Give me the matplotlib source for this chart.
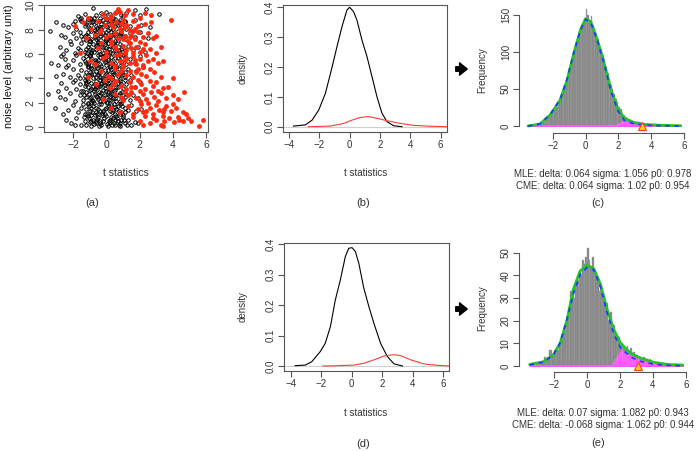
import numpy as np
import matplotlib
matplotlib.use('Agg')
import matplotlib.pyplot as plt
from matplotlib.patches import FancyArrowPatch

plt.rcParams['font.family'] = ['Liberation Sans', 'DejaVu Sans']

# ---------------- data ----------------
# (a) scatter: t statistic vs noise level (null genes, open circles)
black_pts = [
    (-2.1,0.3),(-1.8,0.7),(-1.5,0.2),(-1.3,0.5),(-1.1,0.9),(-0.9,0.1),(-0.8,0.6),(-0.6,0.3),(-0.5,0.8),(-0.3,0.2),
    (-0.2,0.5),(0.0,0.9),(0.1,0.1),(0.2,0.4),(0.4,0.7),(0.5,0.2),(0.7,0.5),(0.8,0.1),(1.0,0.8),(1.1,0.3),
    (1.3,0.6),(1.5,0.2),(1.7,0.4),(-1.9,0.2),(-0.4,0.5),(0.3,0.8),(-1.0,0.4),(0.6,0.9),(-2.4,0.6),(1.9,0.3),
    (-0.7,0.95),(0.9,0.6),
    (-2.3,1.4),(-2.0,1.8),(-1.7,1.2),(-1.5,1.6),(-1.3,1.1),(-1.1,1.9),(-1.0,1.3),(-0.8,1.7),(-0.6,1.2),(-0.5,1.5),
    (-0.3,1.9),(-0.1,1.1),(0.0,1.6),(0.2,1.3),(0.3,1.8),(0.5,1.1),(0.6,1.5),(0.8,1.9),(0.9,1.2),(1.1,1.6),
    (1.3,1.4),(1.5,1.8),(1.8,1.3),(-3.1,1.6),(-2.6,1.1),(-0.9,1.0),(0.4,1.4),(-0.2,1.3),(1.0,1.0),(-1.4,1.9),
    (2.1,1.5),(0.7,1.7),
    (-2.5,2.3),(-2.2,2.8),(-1.9,2.1),(-1.6,2.6),(-1.4,2.2),(-1.2,2.9),(-1.0,2.4),(-0.8,2.1),(-0.7,2.7),(-0.5,2.3),
    (-0.3,2.8),(-0.2,2.1),(0.0,2.5),(0.1,2.9),(0.3,2.2),(0.5,2.6),(0.6,2.1),(0.8,2.8),(1.0,2.3),(1.2,2.7),
    (1.4,2.2),(1.6,2.6),(-3.5,2.7),(-2.8,2.5),(-1.1,2.0),(0.4,2.4),(-0.4,2.6),(0.9,2.0),(1.9,2.4),(-1.5,2.95),
    (-0.9,2.5),(0.2,2.7),
    (-2.4,3.2),(-2.0,3.7),(-1.8,3.1),(-1.6,3.5),(-1.3,3.9),(-1.1,3.3),(-0.9,3.6),(-0.7,3.1),(-0.6,3.8),(-0.4,3.4),
    (-0.2,3.9),(-0.1,3.2),(0.1,3.6),(0.3,3.1),(0.4,3.7),(0.6,3.3),(0.8,3.8),(1.0,3.2),(1.2,3.5),(1.4,3.9),
    (1.7,3.3),(-2.9,3.0),(-2.7,3.6),(-1.4,3.0),(-0.8,3.4),(0.0,3.0),(0.7,3.6),(-0.3,3.5),(2.0,3.7),(-1.9,3.85),
    (0.2,3.35),(-1.2,3.7),
    (-2.6,4.4),(-2.2,4.1),(-2.0,4.8),(-1.7,4.3),(-1.5,4.7),(-1.3,4.2),(-1.1,4.9),(-0.9,4.4),(-0.8,4.0),(-0.6,4.6),
    (-0.4,4.1),(-0.3,4.8),(-0.1,4.3),(0.1,4.7),(0.2,4.0),(0.4,4.5),(0.6,4.9),(0.7,4.2),(0.9,4.6),(1.1,4.1),
    (1.3,4.8),(1.5,4.3),(1.8,4.6),(-3.0,4.2),(-2.4,4.9),(-1.0,4.5),(-0.5,4.3),(0.3,4.8),(0.0,4.4),(-1.6,4.0),
    (1.0,4.4),(2.2,4.9),
    (-2.5,5.6),(-2.3,5.1),(-2.0,5.5),(-1.8,5.9),(-1.6,5.2),(-1.4,5.7),(-1.2,5.3),(-1.0,5.8),(-0.9,5.1),(-0.7,5.5),
    (-0.5,5.9),(-0.4,5.2),(-0.2,5.6),(0.0,5.1),(0.1,5.8),(0.3,5.4),(0.5,5.7),(0.6,5.0),(0.8,5.5),(1.0,5.9),
    (1.2,5.2),(1.4,5.6),(1.7,5.3),(-3.3,5.3),(-2.9,5.1),(-2.7,5.8),(-1.1,5.0),(-0.6,5.4),(0.2,5.3),(-0.1,5.9),
    (0.9,5.1),(2.0,5.8),
    (-2.4,6.3),(-2.1,6.8),(-1.9,6.1),(-1.7,6.5),(-1.5,6.9),(-1.3,6.2),(-1.1,6.6),(-0.9,6.1),(-0.8,6.8),(-0.6,6.4),
    (-0.4,6.0),(-0.3,6.7),(-0.1,6.3),(0.1,6.9),(0.2,6.2),(0.4,6.6),(0.6,6.1),(0.8,6.8),(0.9,6.4),(1.1,6.0),
    (1.3,6.7),(1.6,6.3),(-2.8,6.6),(-2.6,6.0),(-1.0,6.4),(-0.5,6.9),(0.0,6.5),(0.5,6.3),(1.9,6.6),(2.3,6.2),
    (-1.6,6.3),(-0.2,6.1),
    (-2.5,7.4),(-2.2,7.1),(-2.0,7.7),(-1.8,7.3),(-1.6,7.8),(-1.4,7.2),(-1.2,7.6),(-1.0,7.1),(-0.9,7.9),(-0.7,7.4),
    (-0.5,7.0),(-0.4,7.7),(-0.2,7.3),(0.0,7.8),(0.1,7.2),(0.3,7.6),(0.5,7.1),(0.7,7.9),(0.9,7.5),(1.1,7.2),
    (1.4,7.7),(1.7,7.4),(-3.4,7.9),(-2.7,7.6),(-1.1,7.5),(-0.6,7.2),(0.2,7.4),(-0.1,7.0),(2.0,7.8),(2.5,7.3),
    (-1.5,7.5),(0.6,7.6),
    (-2.3,8.2),(-2.0,8.5),(-1.8,8.1),(-1.5,8.7),(-1.3,8.3),(-1.1,8.9),(-0.9,8.4),(-0.7,8.0),(-0.6,8.6),(-0.4,8.2),
    (-0.2,8.8),(0.0,8.3),(0.2,8.7),(0.4,8.1),(0.5,8.9),(0.7,8.4),(0.9,8.0),(1.1,8.6),(1.4,8.3),(1.7,8.8),
    (2.1,8.4),(-3.0,8.6),(-2.6,8.4),(-1.6,8.9),(-1.0,8.1),(-0.3,8.5),(0.1,8.0),(0.8,8.8),(2.6,8.2),(-0.8,8.7),
    (1.2,8.1),(-1.9,8.75),
    (-1.7,9.1),(-1.3,9.3),(-1.0,9.0),(-0.8,9.8),(-0.6,9.2),(-0.3,9.4),(-0.1,9.1),(0.2,9.3),(0.4,9.0),(0.6,9.5),
    (0.9,9.2),(1.2,9.4),(1.7,9.6),(2.4,9.7),(3.2,9.3),(-1.5,9.0),(-0.4,9.0),(0.0,9.5),(1.0,9.1),(2.0,9.2),
]
# dense core of the null cloud
black_core_pts = [
    (-1.2,0.15),(-0.95,0.45),(-0.75,0.25),(-0.55,0.65),(-0.35,0.35),(-0.15,0.75),(0.05,0.25),(0.25,0.6),(0.45,0.35),(0.65,0.75),
    (0.85,0.3),(1.05,0.55),(-1.05,0.7),(-0.45,0.1),(0.15,0.5),(0.75,0.15),(-0.65,0.5),(0.35,0.15),(-1.35,0.85),(1.25,0.15),
    (-0.25,0.95),(0.55,0.55),
    (-1.25,1.45),(-1.05,1.75),(-0.85,1.25),(-0.65,1.55),(-0.45,1.85),(-0.25,1.15),(-0.05,1.45),(0.15,1.75),(0.35,1.25),(0.55,1.65),
    (0.75,1.35),(0.95,1.75),(1.15,1.25),(-0.95,1.55),(-0.35,1.35),(0.25,1.55),(0.85,1.05),(-0.75,1.95),(0.05,1.95),(-1.15,1.05),
    (0.45,1.9),(-0.55,1.05),
    (-1.25,2.45),(-1.05,2.75),(-0.85,2.25),(-0.65,2.55),(-0.45,2.85),(-0.25,2.35),(-0.05,2.65),(0.15,2.25),(0.35,2.75),(0.55,2.35),
    (0.75,2.65),(0.95,2.85),(1.15,2.45),(-0.95,2.05),(-0.35,2.15),(0.25,2.55),(0.85,2.15),(-0.75,2.95),(0.05,2.05),(-1.35,2.65),
    (0.45,2.95),(-0.55,2.45),
    (-1.3,3.35),(-1.1,3.8),(-0.9,3.15),(-0.7,3.55),(-0.5,3.25),(-0.3,3.65),(-0.1,3.45),(0.1,3.85),(0.3,3.45),(0.5,3.05),
    (0.7,3.25),(0.9,3.55),(1.1,3.85),(-1.0,3.05),(-0.4,3.9),(0.2,3.15),(0.8,3.95),(-0.6,3.25),(0.0,3.65),(-1.2,3.55),
    (0.4,3.85),(-0.2,3.05),
    (-1.25,4.55),(-1.05,4.25),(-0.85,4.75),(-0.65,4.15),(-0.45,4.45),(-0.25,4.05),(-0.05,4.65),(0.15,4.35),(0.35,4.15),(0.55,4.55),
    (0.75,4.75),(0.95,4.25),(1.15,4.55),(-0.95,4.85),(-0.35,4.55),(0.25,4.95),(0.85,4.45),(-0.75,4.35),(0.05,4.05),(-1.15,4.05),
    (0.45,4.35),(-0.55,4.85),
    (-1.3,5.45),(-1.1,5.15),(-0.9,5.65),(-0.7,5.25),(-0.5,5.55),(-0.3,5.05),(-0.1,5.35),(0.1,5.55),(0.3,5.75),(0.5,5.25),
    (0.7,5.65),(0.9,5.35),(1.1,5.75),(-1.0,5.95),(-0.4,5.75),(0.2,5.05),(0.8,5.95),(-0.6,5.05),(0.0,5.45),(-1.2,5.85),
    (0.4,5.15),(-0.2,5.85),
    (-1.25,6.45),(-1.05,6.85),(-0.85,6.35),(-0.65,6.65),(-0.45,6.25),(-0.25,6.55),(-0.05,6.85),(0.15,6.45),(0.35,6.05),(0.55,6.75),
    (0.75,6.35),(0.95,6.65),(1.15,6.35),(-0.95,6.15),(-0.35,6.95),(0.25,6.65),(0.85,6.05),(-0.75,6.15),(0.05,6.15),(-1.15,6.05),
    (0.45,6.95),(-0.55,6.75),
    (-1.3,7.45),(-1.1,7.85),(-0.9,7.25),(-0.7,7.65),(-0.5,7.35),(-0.3,7.95),(-0.1,7.55),(0.1,7.35),(0.3,7.85),(0.5,7.45),
    (0.7,7.15),(0.9,7.75),(1.1,7.45),(-1.0,7.05),(-0.4,7.45),(0.2,7.15),(0.8,7.55),(-0.6,7.85),(0.0,7.15),(-1.2,7.15),
    (0.4,7.65),(-0.2,7.75),
    (-1.25,8.45),(-1.05,8.15),(-0.85,8.65),(-0.65,8.35),(-0.45,8.75),(-0.25,8.25),(-0.05,8.65),(0.15,8.45),(0.35,8.75),(0.55,8.35),
    (0.75,8.65),(0.95,8.25),(1.15,8.75),(-0.95,8.85),(-0.35,8.05),(0.25,8.15),(0.85,8.45),(-0.75,8.95),(0.05,8.85),(-1.15,8.65),
    (0.45,8.55),(-0.55,8.15),
]
# differentially expressed genes (filled red)
red_pts = [
    (1.6,0.8),(2.0,0.5),(2.3,0.9),(2.6,0.3),(2.8,0.7),(3.0,0.6),(3.3,0.2),(3.4,0.9),(3.5,0.5),(3.8,0.7),
    (4.1,0.4),(4.3,0.8),(4.6,0.5),(4.9,0.7),(5.1,0.5),(5.6,0.1),(5.8,0.6),(3.4,0.1),(2.2,0.2),(4.4,0.6),
    (0.8,1.2),(1.3,1.7),(1.6,1.1),(1.9,1.5),(2.1,1.9),(2.4,1.3),(2.6,1.6),(2.8,1.1),(3.0,1.8),(3.2,1.4),
    (3.4,1.2),(3.6,1.7),(3.9,1.3),(4.2,1.6),(4.6,1.2),(4.8,1.1),(2.2,1.2),(0.3,1.6),(3.5,1.5),(4.0,1.9),
    (-0.2,2.3),(0.5,2.7),(1.0,2.2),(1.3,2.6),(1.5,2.9),(1.8,2.4),(2.0,2.1),(2.2,2.7),(2.4,2.3),(2.7,2.9),
    (2.9,2.5),(3.1,2.1),(3.3,2.8),(3.6,2.4),(4.0,2.6),(4.3,2.3),(4.7,2.9),(1.1,2.9),(2.5,2.0),(0.9,2.5),
    (-0.6,3.5),(0.2,3.2),(0.6,3.8),(0.9,3.4),(1.2,3.1),(1.4,3.7),(1.7,3.3),(1.9,3.9),(2.1,3.5),(2.3,3.1),
    (2.6,3.8),(2.8,3.4),(3.1,3.0),(3.4,3.2),(3.7,3.3),(0.4,3.5),(2.0,3.0),(1.5,3.3),(3.0,3.7),(-0.1,3.9),
    (-1.1,4.1),(-0.3,4.6),(0.1,4.2),(0.5,4.8),(0.7,4.4),(1.0,4.9),(1.2,4.3),(1.4,4.6),(1.6,4.1),(1.9,4.8),
    (2.1,4.4),(2.4,4.2),(2.6,4.8),(2.9,4.5),(3.3,4.1),(4.0,4.0),(0.3,4.0),(1.8,4.5),(2.2,4.9),(0.9,4.6),
    (-0.7,5.2),(-0.2,5.7),(0.3,5.3),(0.6,5.9),(0.8,5.4),(1.0,5.1),(1.2,5.7),(1.4,5.3),(1.6,5.8),(1.8,5.2),
    (2.0,5.6),(2.2,5.1),(2.5,5.4),(2.8,5.6),(3.1,5.3),(1.1,5.5),(0.5,5.0),(1.7,5.5),(2.4,5.9),(3.4,5.4),
    (-1.0,5.4),(0.0,5.8),
    (-1.6,6.1),(-0.5,6.5),(0.0,6.2),(0.3,6.8),(0.6,6.4),(0.8,6.0),(1.0,6.7),(1.2,6.3),(1.4,6.9),(1.6,6.1),
    (1.8,6.6),(2.0,6.2),(2.3,6.8),(2.6,6.4),(3.0,6.1),(0.5,6.6),(1.1,6.1),(1.5,6.5),(2.2,6.4),(-0.3,6.9),
    (3.3,6.6),
    (-1.2,7.3),(-0.4,7.8),(0.0,7.4),(0.3,7.1),(0.5,7.7),(0.7,7.3),(0.9,7.9),(1.1,7.5),(1.3,7.1),(1.5,7.6),
    (1.7,7.2),(1.9,7.8),(2.2,7.4),(2.5,7.7),(2.8,7.3),(0.2,7.6),(1.0,7.2),(1.6,7.9),(2.0,7.0),(-0.7,7.6),
    (3.0,7.5),(1.4,7.4),
    (-1.9,8.3),(-1.4,8.6),(-0.9,8.1),(-0.5,8.7),(-0.1,8.4),(0.2,8.9),(0.4,8.2),(0.6,8.6),(0.8,8.1),(1.0,8.8),
    (1.2,8.4),(1.4,8.0),(1.6,8.7),(1.9,8.3),(2.3,8.5),(2.7,8.6),(3.9,8.8),(0.3,8.5),(1.1,8.2),(-0.3,8.0),
    (0.9,8.5),(1.7,8.1),
    (-1.1,9.0),(-0.2,9.3),(0.3,9.1),(0.7,9.7),(0.8,9.5),(1.1,9.2),(1.6,9.3),(2.0,9.0),(2.7,9.2),(0.5,9.4),
    (1.3,9.6),(2.3,9.4),(0.0,9.0),
]

# (b) densities
b_null_x = [-3.71, -2.92, -2.48, -2.04, -1.6, -1.16, -0.84, -0.51, -0.18, 0.0, 0.26, 0.48, 0.81, 1.14, 1.47, 1.8, 2.13, 2.46, 2.9, 3.45]
b_null_y = [0.002, 0.006, 0.022, 0.056, 0.112, 0.2, 0.268, 0.335, 0.391, 0.4, 0.385, 0.357, 0.29, 0.235, 0.168, 0.1, 0.045, 0.017, 0.003, 0.0]
b_alt_x = [-2.73, -1.27, -0.4, 0.04, 0.7, 1.25, 1.8, 2.46, 3.34, 4.2, 5.08, 6.4]
b_alt_y = [0.0, 0.002, 0.011, 0.02, 0.031, 0.034, 0.028, 0.02, 0.011, 0.0045, 0.002, 0.0]

# (d) densities
d_null_x = [-3.71, -3.05, -2.62, -2.07, -1.74, -1.4, -1.08, -0.75, -0.42, -0.2, 0.02, 0.24, 0.46, 0.79, 1.12, 1.45, 1.89, 2.33, 2.77, 3.32]
d_null_y = [0.001, 0.003, 0.014, 0.047, 0.074, 0.129, 0.216, 0.282, 0.359, 0.386, 0.388, 0.375, 0.337, 0.255, 0.195, 0.14, 0.074, 0.031, 0.007, 0.0]
d_alt_x = [-1.89, -0.97, 0.13, 0.79, 1.45, 2.11, 2.77, 3.21, 3.87, 4.75, 5.63, 6.46]
d_alt_y = [0.0, 0.001, 0.003, 0.009, 0.02, 0.033, 0.037, 0.034, 0.02, 0.0065, 0.002, 0.0]

# (c) histogram, bins of 0.1 starting at -3.6
c_start, bin_w = -3.6, 0.1
c_counts = [1, 2, 1, 2, 1, 2, 3, 3, 4, 5, 6, 8, 9, 12, 14, 18, 20, 24, 26, 33,
            36, 42, 50, 53, 62, 66, 78, 84, 95, 100, 112, 118, 126, 133, 138, 144, 158, 150, 140, 148,
            136, 133, 125, 118, 110, 104, 96, 90, 80, 72, 63, 55, 50, 43, 36, 32, 26, 23, 18, 15,
            12, 11, 9, 8, 7, 6, 6, 5, 6, 4, 4, 3, 3, 3, 2, 2, 2, 1, 1, 1,
            1, 1, 0, 1, 0, 1, 0, 0, 1, 0, 0, 0, 0, 1]
c_alt_start = 1.5
c_alt_counts = [1, 1, 2, 2, 3, 3, 4, 5, 5, 6, 6, 7, 6, 7, 6, 6, 5, 5, 4, 4, 3, 3, 2, 2, 2, 1, 1, 1]
c_green_x = [-3.5, -2.78, -2.16, -1.55, -1.13, -0.72, -0.31, 0.0, 0.31, 0.72, 1.13, 1.55, 1.96, 2.37, 2.99, 3.6, 4.6, 5.8]
c_green_y = [0, 2.7, 15, 35, 62, 98, 130, 145, 141, 116, 85, 49, 24, 10, 4.5, 2.2, 1.0, 0.3]
c_blue_y = [0, 2.9, 15.5, 36, 63, 99, 130, 144, 140, 115, 84, 47, 21, 7.5, 2.8, 1.2, 0.5, 0.1]
c_mark = 3.45

# (e) histogram
e_start = -3.5
e_counts = [1, 0, 1, 0, 1, 1, 1, 2, 2, 4, 3, 4, 7, 7, 5, 7, 8, 7, 10, 12,
            14, 16, 20, 22, 24, 33, 33, 30, 36, 38, 41, 40, 47, 45, 48, 52, 47, 44, 48, 42,
            40, 38, 33, 35, 30, 31, 26, 28, 20, 24, 17, 18, 14, 12, 13, 9, 10, 8, 7, 9,
            6, 8, 5, 6, 4, 5, 3, 4, 3, 4, 2, 3, 2, 3, 2, 1, 2, 1, 1, 1,
            0, 1, 0, 1, 0, 0, 1, 0, 0, 0, 1, 0, 1]
e_alt_start = 1.6
e_alt_counts = [2, 3, 4, 5, 6, 7, 6, 5, 6, 5, 6, 5, 5, 4, 5, 3, 4, 3, 3, 2, 3, 2, 2, 2, 1, 2, 1, 1, 1]
e_green_x = [-3.47, -2.65, -2.04, -1.63, -1.22, -0.82, -0.41, 0.0, 0.41, 0.82, 1.22, 1.63, 2.04, 2.65, 3.27, 4.08, 4.9, 5.8]
e_green_y = [0.7, 1.9, 4.9, 10, 20, 34, 42, 44.5, 43, 36, 25, 16, 10, 5.6, 3.4, 1.6, 0.7, 0.4]
e_blue_y = [0.5, 1.7, 4.8, 10.2, 20.5, 32, 40.5, 43.5, 42.5, 35, 23.5, 14, 8, 4, 2.0, 0.8, 0.3, 0.1]
e_mark = 3.1

c_text = ['MLE: delta: 0.064 sigma: 1.056 p0: 0.978', 'CME: delta: 0.064 sigma: 1.02 p0: 0.954']
e_text = ['MLE: delta: 0.07 sigma: 1.082 p0: 0.943', 'CME: delta: -0.068 sigma: 1.062 p0: 0.944']

# ---------------- drawing ----------------
W, H = 700, 451
fig = plt.figure(figsize=(7, 4.51), dpi=100)
axcol = '#555555'
txtcol = '#333333'


def px_axes(left, top, right, bottom):
    return fig.add_axes([left / W, 1 - bottom / H, (right - left) / W, (bottom - top) / H])


def r_style(ax, fs=7):
    for s in ax.spines.values():
        s.set_color(axcol)
        s.set_linewidth(0.8)
    ax.tick_params(direction='out', length=4, width=0.8, colors=axcol,
                   labelcolor=txtcol, labelsize=fs, pad=2)
    ax.tick_params(axis='y', labelrotation=90)
    for lab in ax.get_yticklabels():
        lab.set_va('center')


def ftext(x, y, s, size=7, color=txtcol, **kw):
    fig.text(x / W, 1 - y / H, s, ha='center', va='center', fontsize=size, color=color, **kw)


# (a)
ax = px_axes(44, 4.5, 208, 131.7)
pts = black_pts + black_core_pts
ax.plot([p[0] for p in pts], [p[1] for p in pts], 'o', ms=2.5, mfc='none', mec='black', mew=0.7)
ax.plot([p[0] for p in red_pts], [p[1] for p in red_pts], 'o', ms=3.5, color='#ff2a10', mew=0)
ax.set_xlim(-3.75, 6.12)
ax.set_ylim(-0.39, 10.08)
ax.set_xticks([-2, 0, 2, 4, 6])
ax.set_yticks([0, 2, 4, 6, 8, 10])
r_style(ax, fs=7.5)
ftext(126, 173, 't statistics', size=7.5)
ftext(9, 66, 'noise level (arbitrary unit)', size=7.8, rotation=90, color='#111111')
ftext(92, 203, '(a)', size=8)


def density_panel(top, bottom, left, right, xlim, ylim, nx, ny, ax_, ay_, lab_y):
    ax = px_axes(left, top, right, bottom)
    ax.axhline(0, color='#d0d0d0', lw=0.8)
    ax.plot(nx, ny, color='black', lw=0.8)
    ax.plot(ax_, ay_, color='#ff3b3b', lw=0.8)
    ax.set_xlim(*xlim)
    ax.set_ylim(*ylim)
    ax.set_xticks([-4, -2, 0, 2, 4, 6])
    ax.set_yticks([0, 0.1, 0.2, 0.3, 0.4])
    ax.set_yticklabels(['0.0', '0.1', '0.2', '0.3', '0.4'])
    r_style(ax)
    ftext(243, (top + bottom) / 2, 'density', rotation=90)
    ftext(366, lab_y, 't statistics')
    return ax


density_panel(5, 131.7, 282.7, 447, (-4.42, 6.42), (-0.0168, 0.4077),
              b_null_x, b_null_y, b_alt_x, b_alt_y, 173)
ftext(363, 203, '(b)', size=8)
density_panel(243.3, 370.7, 284.3, 449.3, (-4.42, 6.39), (-0.0154, 0.4023),
              d_null_x, d_null_y, d_alt_x, d_alt_y, 413)
ftext(363, 444, '(d)', size=8)


def hist_panel(top, bottom, left, right, xlim, ylim, start, counts, astart, acounts,
               gx, gy, by_, mark, yticks, texts, ty, plab, ply, ylab_y):
    ax = px_axes(left, top, right, bottom)
    edges = start + bin_w * np.arange(len(counts))
    ax.bar(edges, counts, width=bin_w, align='edge', color='#828282', edgecolor='#a5a5a5', lw=0.3)
    aedges = astart + bin_w * np.arange(len(acounts))
    ax.bar(aedges, acounts, width=bin_w, align='edge', color='#ff4cff', edgecolor='#ff80ff', lw=0.3)
    ax.plot([start + bin_w, 5.8], [0, 0], color='#ff55ff', lw=1.4)
    ax.plot(gx, gy, color='#22c42a', lw=2.0, solid_capstyle='round')
    ax.plot(gx, by_, color='#1f3cff', lw=1.3, ls=(0, (2.5, 2.5)))
    ax.plot([mark], [0], marker='^', ms=5.5, mfc='#ffd21a', mec='#ff3a1a', mew=0.8)
    ax.set_xlim(*xlim)
    ax.set_ylim(*ylim)
    ax.set_xticks([-2, 0, 2, 4, 6])
    ax.set_yticks(yticks)
    r_style(ax)
    ax.spines['top'].set_visible(False)
    ax.spines['right'].set_visible(False)
    ax.spines['left'].set_bounds(yticks[0], yticks[-1])
    ax.spines['bottom'].set_bounds(-2, 6)
    ftext(482, ylab_y, 'Frequency', rotation=90)
    ftext(603, ty, texts[0])
    ftext(603, ty + 12, texts[1])
    ftext(598, ply, plab, size=8)
    return ax


hist_panel(4.2, 132.7, 519.3, 687.3, (-4.04, 6.2), (-9.0, 164.5), c_start, c_counts,
           c_alt_start, c_alt_counts, c_green_x, c_green_y, c_blue_y, c_mark,
           [0, 50, 100, 150], c_text, 174, '(c)', 203, 70)
hist_panel(243, 371.7, 519, 689.3, (-4.12, 6.2), (-2.5, 54.3), e_start, e_counts,
           e_alt_start, e_alt_counts, e_green_x, e_green_y, e_blue_y, e_mark,
           [0, 10, 20, 30, 40, 50], e_text, 413, '(e)', 443, 308)

# arrows between panels
for ay in (69, 309):
    arr = FancyArrowPatch((453 / W, 1 - ay / H), (470 / W, 1 - ay / H), transform=fig.transFigure,
                          arrowstyle='simple,head_length=0.5,head_width=0.8,tail_width=0.3',
                          mutation_scale=11, color='black')
    fig.add_artist(arr)

fig.savefig('out.png', dpi=100)
